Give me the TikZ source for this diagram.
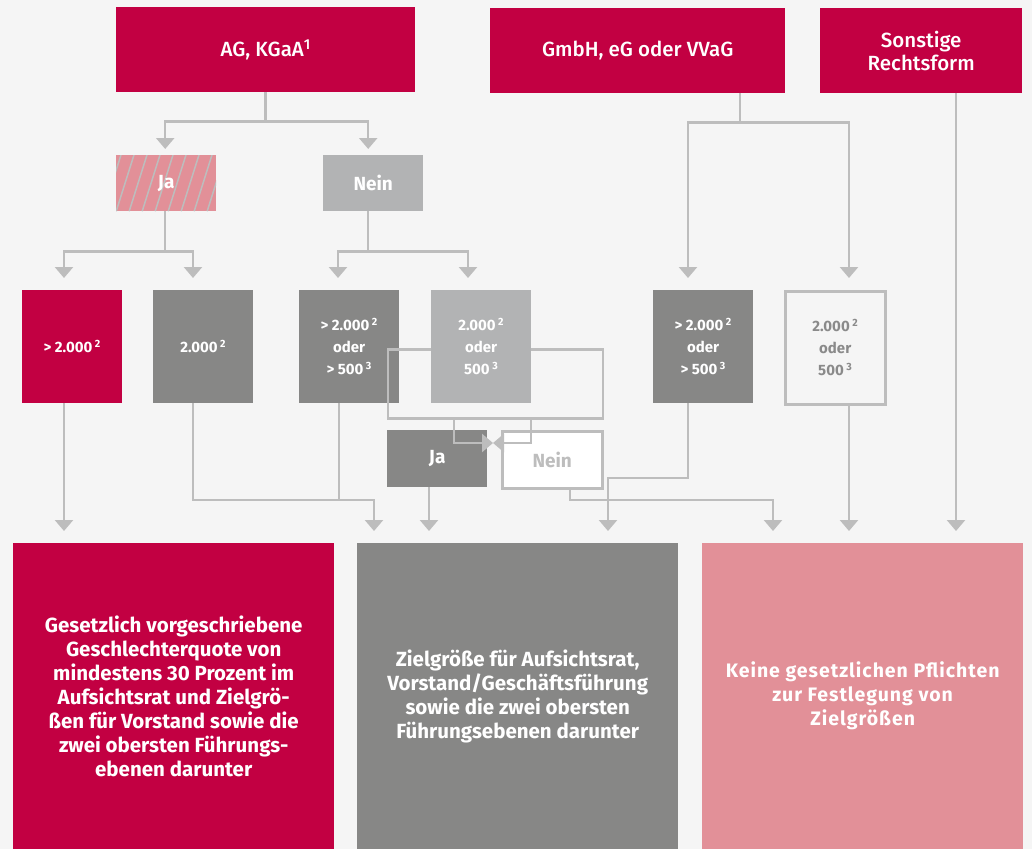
\documentclass[tikz,border=0pt]{standalone}
\usepackage{fontspec}
\setmainfont{Fira Sans}
\newfontfamily\medfont{Fira Sans Medium}
\usetikzlibrary{arrows.meta}
\definecolor{kred}{RGB}{194,0,66}
\definecolor{kgrey}{RGB}{135,135,134}
\definecolor{klight}{RGB}{178,179,180}
\definecolor{kpink}{RGB}{226,144,152}
\definecolor{kline}{RGB}{189,189,189}
\definecolor{kbg}{RGB}{245,245,245}
\definecolor{ktext}{RGB}{138,138,138}
\tikzset{%
  >={Triangle[width=18pt,length=11pt]},
  % Specifications for style of nodes:
        base/.style = {rectangle, anchor=north west, inner sep=0pt,
                       align=center, text=white, font=\bfseries},
  rechtsform/.style = {base, fill=kred, minimum height=85pt,
                       font=\fontsize{20.5}{23}\selectfont\medfont},
      answer/.style = {base, minimum width=100pt, minimum height=56pt,
                       font=\fontsize{19}{22}\selectfont\bfseries},
   threshold/.style = {base, minimum width=100pt, minimum height=113pt,
                       font=\fontsize{15}{22}\selectfont\bfseries},
      result/.style = {base, minimum width=321pt, minimum height=306pt,
                       font=\fontsize{20.5}{24}\selectfont\bfseries},
        link/.style = {draw=kline, line width=2.5pt},
         arr/.style = {link, ->, shorten >=12pt},
}
\begin{document}
\begin{tikzpicture}[x=1pt, y=-1pt]
  \fill[kbg] (0,0) rectangle (1032,849);

  % Specification of nodes (position, etc.)
  \node (ag)     [rechtsform, minimum width=299pt] at (116,7) {AG, KGaA\textsuperscript{1}};
  \node (gmbh)   [rechtsform, minimum width=295pt] at (490,8) {GmbH, eG oder VVaG};
  \node (sonst)  [rechtsform, minimum width=202pt] at (820,8) {Sonstige\\Rechtsform};

  \node (agja)   [answer, fill=kpink, path picture={
      \foreach \s in {-2,...,8}
        \draw[kline, line width=1.5pt] ([xshift=\s*13pt]path picture bounding box.south west) -- ++(18,-57);
    }] at (116,155) {Ja};
  \node (agnein) [answer, fill=klight] at (323,155) {Nein};

  \node (agGross)     [threshold, fill=kred]   at (22,290)  {> 2.000\,\textsuperscript{2}};
  \node (agKlein)     [threshold, fill=kgrey]  at (153,290) {2.000\,\textsuperscript{2}};
  \node (agNeinGross) [threshold, fill=kgrey]  at (299,290) {> 2.000\,\textsuperscript{2}\\oder\\> 500\,\textsuperscript{3}};
  \node (agNeinKlein) [threshold, fill=klight] at (431,290) {2.000\,\textsuperscript{2}\\oder\\500\,\textsuperscript{3}};
  \node (gmbhGross)   [threshold, fill=kgrey]  at (653,290) {> 2.000\,\textsuperscript{2}\\oder\\> 500\,\textsuperscript{3}};
  \node (gmbhKlein)   [threshold, fill=kbg, draw=kline, line width=2.5pt, text=ktext]
                      at (784,290) {2.000\,\textsuperscript{2}\\oder\\500\,\textsuperscript{3}};

  \node (ja)   [answer, minimum height=57pt, fill=kgrey] at (387,430) {Ja};
  \node (nein) [answer, minimum height=57pt, fill=white, draw=kline, line width=2.5pt, text=kline]
               at (501,430) {Nein};

  \node (quote) [result, fill=kred] at (13,543)
  {Gesetzlich vorgeschriebene\\Geschlechterquote von\\mindestens 30 Prozent im\\Aufsichtsrat und Zielgrö-\\ßen für Vorstand sowie die\\zwei obersten Führungs-\\ebenen darunter};
  \node (ziel)  [result, fill=kgrey] at (357,543)
  {Zielgröße für Aufsichtsrat,\\Vorstand/Geschäftsführung\\sowie die zwei obersten\\Führungsebenen darunter};
  \node (keine) [result, fill=kpink, font=\fontsize{19.5}{24}\selectfont\bfseries\addfontfeature{LetterSpace=5}]
                at (702,543)
  {Keine gesetzlichen Pflichten\\zur Festlegung von\\Zielgrößen};

  % Specification of lines between nodes specified above
  \draw[arr, shorten >=6pt] (ag.south) -- ++(0,29) -| ([xshift=-1pt]agja.north);
  \draw[arr, shorten >=6pt] (ag.south) -- ++(0,29) -| ([xshift=-5pt]agnein.north);
  \draw[arr] ([xshift=-1pt]agja.south) -- ++(0,40) -| ([xshift=42pt]agGross.north west);
  \draw[arr] ([xshift=-1pt]agja.south) -- ++(0,40) -| ([xshift=40pt]agKlein.north west);
  \draw[arr] ([xshift=-5pt]agnein.south) -- ++(0,40) -| ([xshift=39pt]agNeinGross.north west);
  \draw[arr] ([xshift=-5pt]agnein.south) -- ++(0,40) -| ([xshift=37pt]agNeinKlein.north west);
  \draw[arr] ([xshift=250pt]gmbh.south west) -- ++(0,29) -| ([xshift=35pt]gmbhGross.north west);
  \draw[arr] ([xshift=250pt]gmbh.south west) -- ++(0,29) -| ([xshift=65pt]gmbhKlein.north west);
  \draw[arr] ([xshift=136pt]sonst.south west) -- ([xshift=254pt]keine.north west);

  % loop round the middle box, with the two arrows that meet
  \draw[link] ([yshift=-3pt]agNeinKlein.west) -- ++(-43,0) -- ++(0,69) coordinate (loopbl)
    -- ++(215,0) -- ++(0,-69) -- ([yshift=-3pt]agNeinKlein.east);
  \coordinate (meet) at ([xshift=-8pt,yshift=-13pt]nein.north west);
  \draw[arr, shorten >=0pt] ([xshift=66pt]loopbl) |- (meet);
  \draw[arr, shorten >=0pt] ([xshift=143pt]loopbl) |- (meet);

  \coordinate (zielmerge)  at ([xshift=17pt,yshift=43pt]ziel.north west);
  \coordinate (zielgmbh)   at ([xshift=251pt,yshift=65pt]ziel.north west);
  \coordinate (keinemerge) at ([xshift=71pt,yshift=43pt]keine.north west);
  \draw[arr] ([xshift=42pt]agGross.south west) -- ([xshift=51pt]quote.north west);
  \draw[arr] ([xshift=40pt]agKlein.south west) |- (zielmerge) -- ([xshift=17pt]ziel.north west);
  \draw[link] ([xshift=40pt]agNeinGross.south west) |- (zielmerge);
  \draw[arr] ([xshift=42pt]ja.south west) -- ([xshift=72pt]ziel.north west);
  \draw[arr] ([xshift=69pt]nein.south west) |- (keinemerge) -- ([xshift=71pt]keine.north west);
  \draw[arr] ([xshift=35pt]gmbhGross.south west) |- (zielgmbh) -- ([xshift=251pt]ziel.north west);
  \draw[arr] ([xshift=65pt]gmbhKlein.south west) -- ([xshift=147pt]keine.north west);
\end{tikzpicture}
\end{document}
